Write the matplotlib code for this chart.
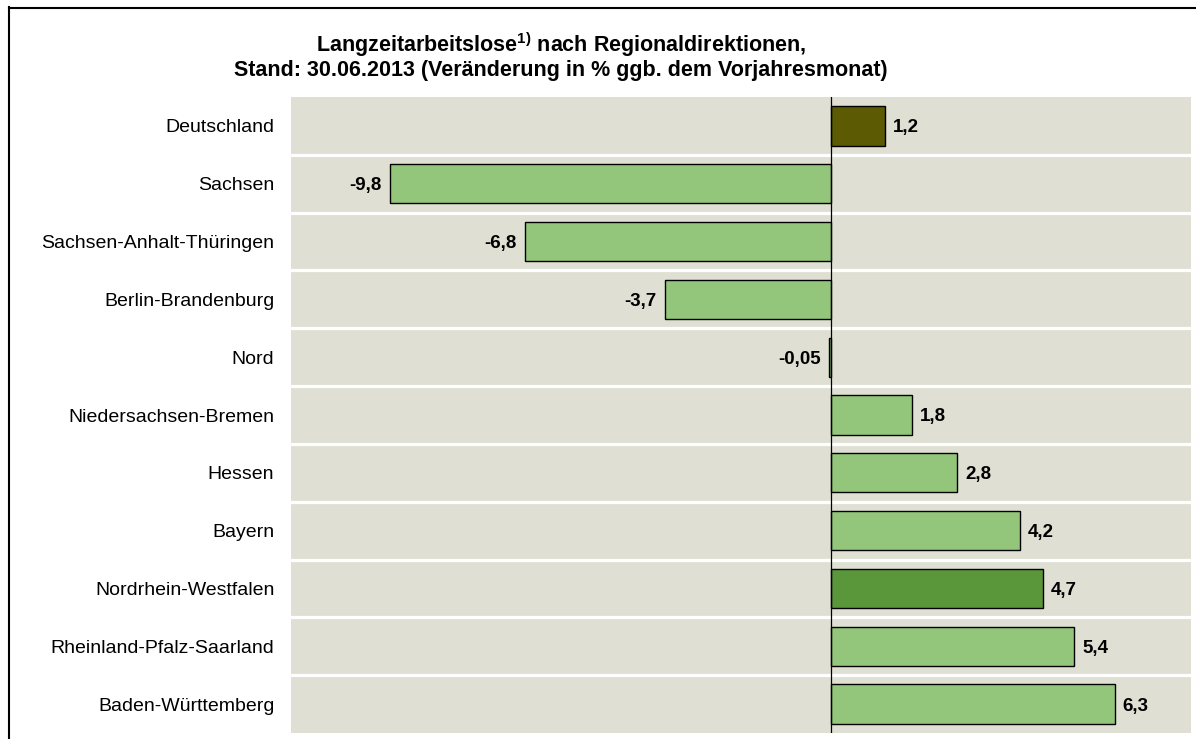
import matplotlib
matplotlib.use("Agg")
import matplotlib.pyplot as plt
from matplotlib.lines import Line2D

plt.rcParams['font.family'] = ['Liberation Sans', 'DejaVu Sans']
plt.rcParams['mathtext.fontset'] = 'custom'
plt.rcParams['mathtext.rm'] = 'Liberation Sans'
plt.rcParams['mathtext.bf'] = 'Liberation Sans:bold'

regions = ["Deutschland", "Sachsen", "Sachsen-Anhalt-Thüringen", "Berlin-Brandenburg",
           "Nord", "Niedersachsen-Bremen", "Hessen", "Bayern", "Nordrhein-Westfalen",
           "Rheinland-Pfalz-Saarland", "Baden-Württemberg"]
values = [1.2, -9.8, -6.8, -3.7, -0.05, 1.8, 2.8, 4.2, 4.7, 5.4, 6.3]
value_labels = ["1,2", "-9,8", "-6,8", "-3,7", "-0,05", "1,8", "2,8", "4,2", "4,7", "5,4", "6,3"]

LIGHT = "#93C67A"
bar_colors = {"Deutschland": "#5C5A03", "Nordrhein-Westfalen": "#5A963A"}
colors = [bar_colors.get(r, LIGHT) for r in regions]

W, H = 1196, 739
fig = plt.figure(figsize=(W / 100, H / 100), dpi=100)
ax = fig.add_axes([291 / W, (H - 733) / H, (1191 - 291) / W, (733 - 97) / H])
ax.set_facecolor("#DFE0D3")

y = list(range(len(regions)))
ax.barh(y, values, height=0.68, color=colors, edgecolor="black", linewidth=1.0, zorder=3)

ax.set_xlim(-12, 8)
ax.set_ylim(len(regions) - 0.5, -0.5)

for k in range(len(regions) - 1):
    ax.axhline(k + 0.5, color="white", linewidth=2.3, zorder=2)
ax.axvline(0, color="black", linewidth=0.9, zorder=4)

for yi, v, lab in zip(y, values, value_labels):
    if v >= 0:
        ax.annotate(lab, (v, yi), xytext=(8, 0), textcoords="offset pixels",
                    ha="left", va="center_baseline", fontsize=13.5, fontweight="bold", zorder=5)
    else:
        ax.annotate(lab, (v, yi), xytext=(-8, 0), textcoords="offset pixels",
                    ha="right", va="center_baseline", fontsize=13.5, fontweight="bold", zorder=5)

ax.set_yticks(y)
ax.set_yticklabels(regions, fontsize=14)
ax.tick_params(axis="y", length=0, pad=12)
ax.set_xticks([])
for s in ax.spines.values():
    s.set_visible(False)

fig.text(561 / W, 1 - 52 / H, r"Langzeitarbeitslose$^{\mathbf{1)}}$ nach Regionaldirektionen,",
         ha="center", va="baseline", fontsize=15.5, fontweight="bold")
fig.text(561 / W, 1 - 76 / H, "Stand: 30.06.2013 (Veränderung in % ggb. dem Vorjahresmonat)",
         ha="center", va="baseline", fontsize=15.5, fontweight="bold")

# frame lines
fig.add_artist(Line2D([8.5 / W, 8.5 / W], [0, 1 - 7 / H], color="black", linewidth=1.5,
                      transform=fig.transFigure))
fig.add_artist(Line2D([8.5 / W, 1], [1 - 7.5 / H, 1 - 7.5 / H], color="black", linewidth=1.5,
                      transform=fig.transFigure))

fig.savefig("out.png", dpi=100, facecolor="white")
